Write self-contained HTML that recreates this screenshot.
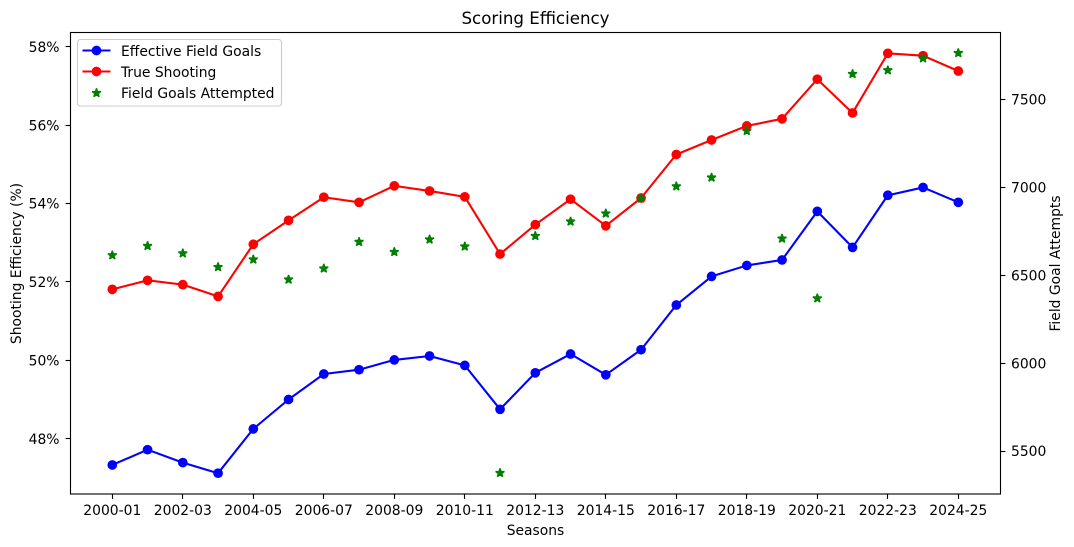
<!DOCTYPE html>
<html lang="en">
<head>
<meta charset="utf-8">
<title>Scoring Efficiency</title>
<style>
html,body{margin:0;padding:0;background:#fff;width:1074px;height:547px;overflow:hidden}
svg{display:block}
text{font-family:"DejaVu Sans",sans-serif;font-size:13.89px;fill:#000}
</style>
</head>
<body>
<svg id="chart" xmlns="http://www.w3.org/2000/svg" width="1074" height="547" viewBox="0 0 1074 547">
  <rect x="0" y="0" width="1074" height="547" fill="#fff"/>
  <text x="535.5" y="24" text-anchor="middle" style="font-size:16.67px">Scoring Efficiency</text>
  <g id="marks"></g>
  <g id="axes"></g>
  <rect x="70.5" y="32.5" width="930" height="461.5" fill="none" stroke="#000" stroke-width="1.11"/>
  <text x="535.5" y="535" text-anchor="middle">Seasons</text>
  <text transform="translate(21 263.5) rotate(-90)" text-anchor="middle">Shooting Efficiency (%)</text>
  <text transform="translate(1060 263.5) rotate(-90)" text-anchor="middle">Field Goal Attempts</text>
  <g>
    <rect x="77.5" y="39.5" width="204" height="66.5" rx="3" ry="3" fill="#fff" fill-opacity="0.8" stroke="#ccc" stroke-width="1.11"/>
    <g>
      <line x1="82.5" y1="50.5" x2="110.5" y2="50.5" stroke="#00f" stroke-width="2.08"/>
      <circle cx="96.5" cy="50.5" r="4.86" fill="#00f"/>
      <text x="121" y="56">Effective Field Goals</text>
    </g>
    <g>
      <line x1="82.5" y1="71.5" x2="110.5" y2="71.5" stroke="#f00" stroke-width="2.08"/>
      <circle cx="96.5" cy="71.5" r="4.86" fill="#f00"/>
      <text x="121" y="77">True Shooting</text>
    </g>
    <g>
      <path id="legend-star" fill="#008000" stroke="#008000" stroke-width="1.39" stroke-linejoin="bevel"/>
      <text x="121" y="98">Field Goals Attempted</text>
    </g>
  </g>
</svg>
<script>
const seasons = ["2000-01","2001-02","2002-03","2003-04","2004-05","2005-06","2006-07","2007-08","2008-09","2009-10","2010-11","2011-12","2012-13","2013-14","2014-15","2015-16","2016-17","2017-18","2018-19","2019-20","2020-21","2021-22","2022-23","2023-24","2024-25"];
const effectiveFieldGoals = [47.33,47.72,47.39,47.12,48.25,49.00,49.65,49.76,50.01,50.11,49.87,48.75,49.68,50.16,49.63,50.27,51.41,52.14,52.42,52.56,53.80,52.88,54.21,54.41,54.03];
const trueShooting = [51.81,52.04,51.93,51.63,52.96,53.57,54.16,54.03,54.45,54.32,54.17,52.71,53.46,54.11,53.43,54.14,55.25,55.62,55.98,56.16,57.17,56.31,57.83,57.77,57.38];
const fieldGoalsAttempted = [6613,6666,6624,6546,6589,6475,6538,6689,6632,6703,6663,5375,6723,6805,6851,6936,7005,7055,7320,6708,6368,7644,7665,7733,7763];
const leftTicks = [48,50,52,54,56,58];
const rightTicks = [5500,6000,6500,7000,7500];

const NS = 'http://www.w3.org/2000/svg';
const marks = document.getElementById('marks');
const axes = document.getElementById('axes');

function xScale(i){ return 112.3 + i * 35.25; }
function yLeft(v){ return 46.7 + (58 - v) * 39.2; }
function yRight(v){ return 99.3 + (7500 - v) * 0.17585; }
function snap(p){ return Math.floor(p) + 0.5; }

function make(tag, attrs, parent){
  const el = document.createElementNS(NS, tag);
  for (const k in attrs) el.setAttribute(k, attrs[k]);
  parent.appendChild(el);
  return el;
}
function starPath(cx, cy, r){
  let d = '';
  for (let k = 0; k < 10; k++){
    const rad = k % 2 ? r * 0.381966 : r;
    const a = -Math.PI / 2 + k * Math.PI / 5;
    d += (k ? 'L' : 'M') + (cx + rad * Math.cos(a)).toFixed(2) + ' ' + (cy + rad * Math.sin(a)).toFixed(2);
  }
  return d + 'Z';
}
function drawSeries(values, color, name){
  const pts = values.map((v, i) => xScale(i).toFixed(2) + ',' + yLeft(v).toFixed(2)).join(' ');
  const line = make('polyline', {points: pts, fill: 'none', stroke: color, 'stroke-width': 2.08, 'stroke-linejoin': 'round'}, marks);
  
  
  values.forEach((v, i) => {
    const dot = make('circle', {cx: xScale(i), cy: yLeft(v), r: 4.86, fill: color}, marks);
    
    
  });
}
drawSeries(effectiveFieldGoals, '#0000ff', 'effective-field-goals');
drawSeries(trueShooting, '#ff0000', 'true-shooting');

fieldGoalsAttempted.forEach((v, i) => {
  const star = make('path', {d: starPath(xScale(i), yRight(v), 4.6), fill: '#008000', stroke: '#008000', 'stroke-width': 1.39, 'stroke-linejoin': 'bevel'}, marks);
  
  
});

document.getElementById('legend-star').setAttribute('d', starPath(96.5, 93, 4.6));

seasons.forEach((s, i) => {
  if (i % 2) return;
  const x = snap(xScale(i));
  const tick = make('line', {x1: x, x2: x, y1: 494, y2: 498.9, stroke: '#000', 'stroke-width': 1.11}, axes);
  
  
  const label = make('text', {x: xScale(i), y: 515, 'text-anchor': 'middle'}, axes);
  
  
  label.textContent = s;
});
leftTicks.forEach(v => {
  const y = snap(yLeft(v));
  const tick = make('line', {x1: 65.6, x2: 70.5, y1: y, y2: y, stroke: '#000', 'stroke-width': 1.11}, axes);
  
  
  const label = make('text', {x: 59.5, y: yLeft(v) + 5.2, 'text-anchor': 'end'}, axes);
  
  
  label.textContent = v + '%';
});
rightTicks.forEach(v => {
  const y = snap(yRight(v));
  const tick = make('line', {x1: 1000.5, x2: 1005.4, y1: y, y2: y, stroke: '#000', 'stroke-width': 1.11}, axes);
  
  
  const label = make('text', {x: 1011, y: yRight(v) + 5.2, 'text-anchor': 'start'}, axes);
  
  
  label.textContent = v;
});
</script>
</body>
</html>
